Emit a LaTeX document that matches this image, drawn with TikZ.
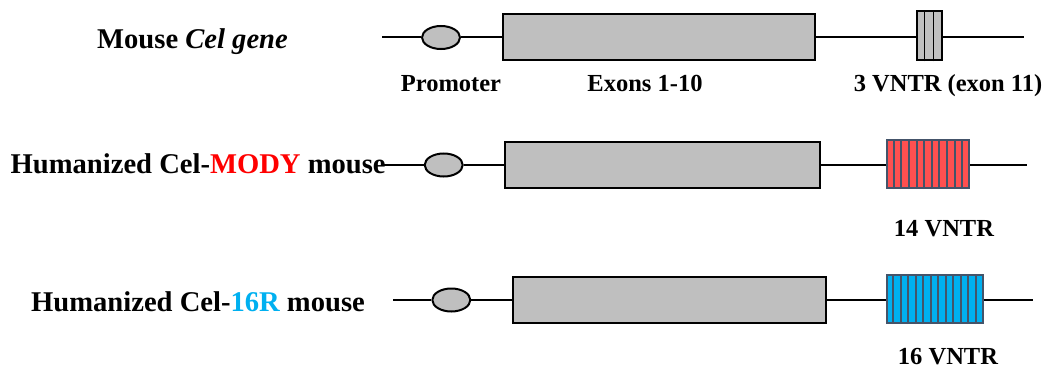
\documentclass[tikz,border=0pt]{standalone}
\usepackage{fontspec}
\setmainfont{Liberation Serif}
\usetikzlibrary{shapes.geometric,calc}
\definecolor{exongray}{HTML}{BFBFBF}
\definecolor{modyred}{HTML}{FF0000}
\definecolor{redfill}{HTML}{FF5050}
\definecolor{rblue}{HTML}{00B0F0}
\definecolor{slate}{HTML}{44546A}
\tikzset{
  gline/.style={line width=2pt,black},
  prom/.style={ellipse,draw=black,line width=2pt,fill=exongray,minimum width=38pt,minimum height=23pt,inner sep=0pt},
  exonbox/.style={rectangle,draw=black,line width=2pt,fill=exongray,minimum height=46pt,inner sep=0pt},
  vntrbox/.style={rectangle,line width=2pt,inner sep=0pt},
  title/.style={anchor=base west,inner sep=0pt,font=\fontsize{28.6}{30}\selectfont\bfseries},
  lab/.style={anchor=base,inner sep=0pt,font=\fontsize{24.5}{26}\selectfont\bfseries},
}
\begin{document}
\begin{tikzpicture}[x=1pt,y=-1pt]
\useasboundingbox (0,0) rectangle (1047,369);
% ---------- row 1
\node[title] (t1) at (97,49) {Mouse \textit{Cel gene}};
\coordinate (s1) at (382,37.5);
\coordinate (e1) at (1024,37.5);
\node[prom] (p1) at (441,37.5) {};
\node[exonbox,minimum width=312pt] (x1) at (659,37.5) {};
\node[vntrbox,draw=black,fill=exongray,minimum width=25pt,minimum height=49pt] (v1) at (929,36) {};
\foreach \i in {1,2} \draw[line width=1.6pt] ($(v1.south west)!\i/3!(v1.south east)$) -- ($(v1.north west)!\i/3!(v1.north east)$);
\draw[gline] (s1) -- (p1) (p1) -- (x1) (x1.east |- s1) -- (v1.west |- s1) (v1.east |- s1) -- (e1);
\node[lab] (l1) at (451,92) {Promoter};
\node[lab] (l2) at (645,92) {Exons 1-10};
\node[lab] (l3) at (948,92) {3 VNTR (exon 11)};
% ---------- row 2
\node[title] (t2) at (10.5,173) {Humanized Cel-\textcolor{modyred}{MODY} mouse};
\coordinate (s2) at (383,165);
\coordinate (e2) at (1027,165);
\node[prom] (p2) at (443.7,165) {};
\node[exonbox,minimum width=315pt] (x2) at (662.5,164.5) {};
\node[vntrbox,draw=slate,fill=redfill,minimum width=82pt,minimum height=48pt] (v2) at (928,164.2) {};
\foreach \i in {1,...,10} \draw[slate,line width=2pt] ($(v2.south west)!\i/11!(v2.south east)$) -- ($(v2.north west)!\i/11!(v2.north east)$);
\draw[gline] (s2) -- (p2) (p2) -- (x2.west |- s2) (x2.east |- s2) -- (v2.west |- s2) (v2.east |- s2) -- (e2);
\node[lab] (l4) at (944,236) {14 VNTR};
% ---------- row 3
\node[title] (t3) at (31,311.5) {Humanized Cel-\textcolor{rblue}{16R} mouse};
\coordinate (s3) at (393,300);
\coordinate (e3) at (1033,300);
\node[prom] (p3) at (451.3,300) {};
\node[exonbox,minimum width=313pt] (x3) at (669.7,300) {};
\node[vntrbox,draw=slate,fill=rblue,minimum width=96pt,minimum height=48pt] (v3) at (934.5,299.2) {};
\foreach \i in {1,...,12} \draw[slate,line width=2pt] ($(v3.south west)!\i/13!(v3.south east)$) -- ($(v3.north west)!\i/13!(v3.north east)$);
\draw[gline] (s3) -- (p3) (p3) -- (x3) (x3.east |- s3) -- (v3.west |- s3) (v3.east |- s3) -- (e3);
\node[lab] (l5) at (948,364) {16 VNTR};
\end{tikzpicture}
\end{document}
